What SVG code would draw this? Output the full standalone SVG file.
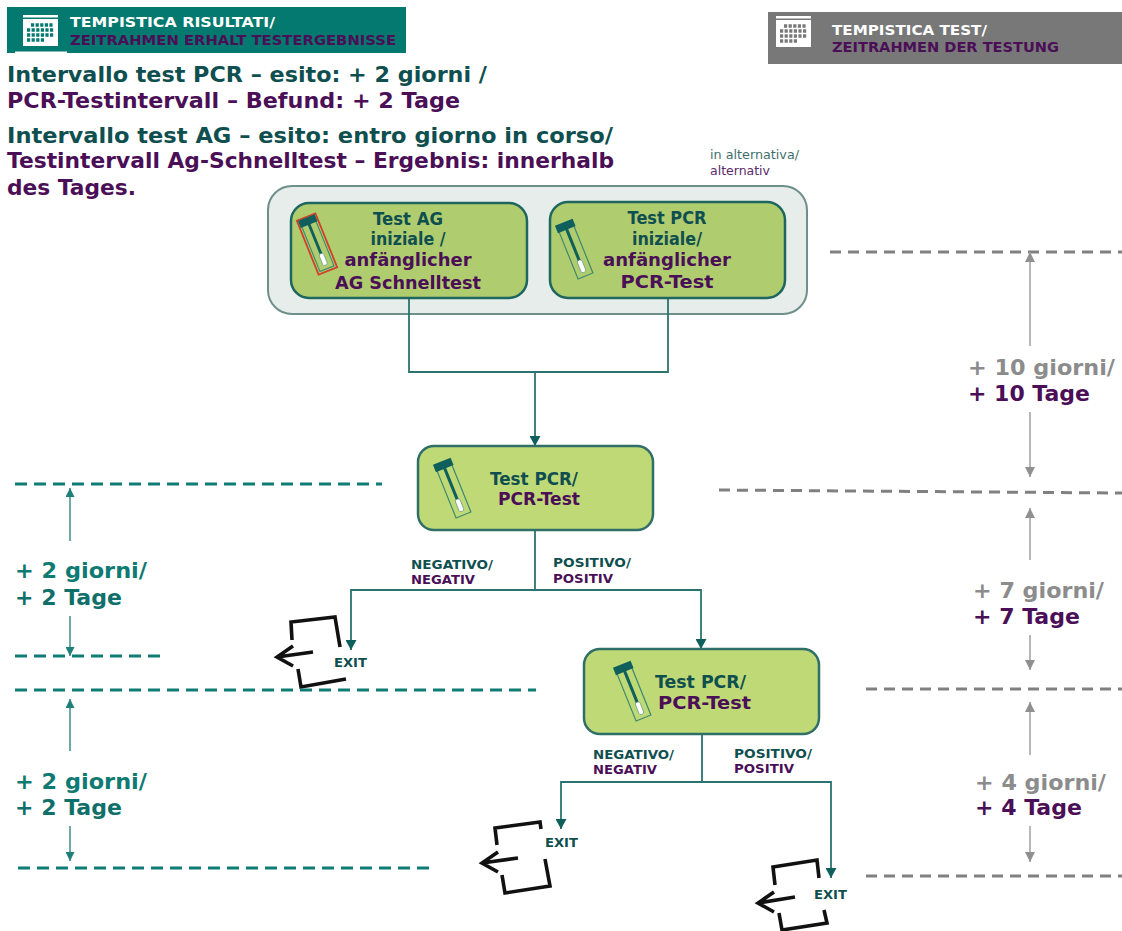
<svg xmlns="http://www.w3.org/2000/svg" width="1122" height="931" viewBox="0 0 1122 931">
<style>
text{font-family:"DejaVu Sans","Liberation Sans",sans-serif;font-weight:700}
.g{fill:#0f4f4f}.p{fill:#4b0f57}.t{fill:#0f7a72}.y{fill:#8c8c8c}
.m{font-size:21px}.b{font-size:17px}.l{font-size:18px}.s{font-size:12px}.h{font-size:14px}
.box{fill:#bfd976;stroke:#2f6f68;stroke-width:2.5}
.box2{fill:#afcc6e;stroke:#1f665f;stroke-width:2.5}
.c{fill:none;stroke:#2a7470;stroke-width:1.8}
.dt{fill:none;stroke:#0f7d75;stroke-width:3.2;stroke-dasharray:12 7}
.dy{fill:none;stroke:#808080;stroke-width:3;stroke-dasharray:11 7}
.at{fill:none;stroke:#3b8f88;stroke-width:1.5}
.ay{fill:none;stroke:#a0a0a0;stroke-width:1.5}
.x{fill:none;stroke:#111;stroke-width:3.6;stroke-linejoin:miter}
.cal{fill:#fff}
</style>
<defs>
<marker id="ah" markerWidth="12" markerHeight="11" refX="10" refY="5.5" orient="auto" markerUnits="userSpaceOnUse"><path d="M0 0L10 5.5L0 11z" fill="#0f5f5c"/></marker>
<marker id="at" markerWidth="10" markerHeight="9" refX="9" refY="4.5" orient="auto" markerUnits="userSpaceOnUse"><path d="M0 0L9 4.5L0 9z" fill="#1f807a"/></marker>
<marker id="ay" markerWidth="11" markerHeight="10" refX="10" refY="5" orient="auto" markerUnits="userSpaceOnUse"><path d="M0 0L10 5L0 10z" fill="#909090"/></marker>
<g id="tube">
<rect x="-8" y="-26" width="16" height="54" fill="none" stroke="#3f8a70" stroke-width="1.2"/>
<rect x="-9.5" y="-30" width="19" height="8" fill="#0f5f5c"/>
<rect x="-1.5" y="-23" width="3" height="35" fill="#0f5f5c"/>
<rect x="-2.5" y="11" width="5" height="13" rx="2" fill="#fff" stroke="#4f8f7a" stroke-width=".6"/>
</g>
<g id="cal">
<rect x="0" y="0" width="35" height="2.5" class="cal"/>
<rect x="0" y="4" width="35" height="27" class="cal"/>
<path d="M8 10H31M4 15H31M4 20H31M4 25H22" stroke="currentColor" stroke-width="3.4" stroke-dasharray="3.2 1.4" fill="none"/>
</g>
</defs>

<g id="header-results">
<rect x="7" y="7" width="399" height="46" fill="#04796f"/>
<rect x="15" y="51.5" width="52" height="1.5" fill="#fff"/>
<use href="#cal" x="23" y="15" color="#04796f"/>
<text x="70" y="27" class="h" fill="#fff" textLength="205" lengthAdjust="spacingAndGlyphs">TEMPISTICA RISULTATI/</text>
<text x="70" y="45" class="h p" textLength="326" lengthAdjust="spacingAndGlyphs">ZEITRAHMEN ERHALT TESTERGEBNISSE</text>
</g>
<g id="header-tests">
<rect x="768" y="12" width="354" height="52" fill="#787878"/>
<use href="#cal" x="776" y="16" color="#787878"/>
<text x="832" y="35" class="h" fill="#fff" textLength="155" lengthAdjust="spacingAndGlyphs">TEMPISTICA TEST/</text>
<text x="832" y="52" class="h p" textLength="227" lengthAdjust="spacingAndGlyphs">ZEITRAHMEN DER TESTUNG</text>
</g>
<g id="intro">
<text x="7" y="82" class="m g" textLength="480" lengthAdjust="spacingAndGlyphs">Intervallo test PCR – esito: + 2 giorni /</text>
<text x="7" y="108" class="m p" textLength="453" lengthAdjust="spacingAndGlyphs">PCR-Testintervall – Befund: + 2 Tage</text>
<text x="7" y="143" class="m g" textLength="606" lengthAdjust="spacingAndGlyphs">Intervallo test AG – esito: entro giorno in corso/</text>
<text x="7" y="168" class="m p" textLength="607" lengthAdjust="spacingAndGlyphs">Testintervall Ag-Schnelltest – Ergebnis: innerhalb</text>
<text x="7" y="195" class="m p" textLength="129" lengthAdjust="spacingAndGlyphs">des Tages.</text>
</g>
<g id="alt-label">
<text x="710" y="159" fill="#3f6f6c" style="font-weight:400;font-size:11.5px" textLength="89" lengthAdjust="spacingAndGlyphs">in alternativa/</text>
<text x="710" y="175" fill="#5a2a6a" style="font-weight:400;font-size:11.5px" textLength="60" lengthAdjust="spacingAndGlyphs">alternativ</text>
</g>
<g id="alt-group"><rect x="268" y="186" width="539" height="128" rx="24" fill="#e6edea" stroke="#6f8f8c" stroke-width="2"/></g>

<g id="connectors">
<path class="c" d="M409 298V372H668V298"/>
<path class="c" d="M535 372V446" marker-end="url(#ah)"/>
<path class="c" d="M535 530V590H351V650" marker-end="url(#ah)"/>
<path class="c" d="M535 590H701V649" marker-end="url(#ah)"/>
<path class="c" d="M702 733V782H561V829" marker-end="url(#ah)"/>
<path class="c" d="M702 782H831V878" marker-end="url(#ah)"/>
</g>

<g id="node-ag">
<rect x="291" y="203" width="236" height="95" rx="18" class="box2"/>
<g transform="translate(317 244) rotate(-22)"><rect x="-10" y="-29" width="20" height="58" fill="none" stroke="#d0402a" stroke-width="1.8"/><use href="#tube" transform="scale(.95)"/></g>
<text x="408" y="225" text-anchor="middle" class="b g" textLength="70" lengthAdjust="spacingAndGlyphs">Test AG</text>
<text x="408" y="245" text-anchor="middle" class="b g" textLength="75" lengthAdjust="spacingAndGlyphs">iniziale /</text>
<text x="408" y="266" text-anchor="middle" class="l p" textLength="127" lengthAdjust="spacingAndGlyphs">anfänglicher</text>
<text x="408" y="289" text-anchor="middle" class="l p" textLength="146" lengthAdjust="spacingAndGlyphs">AG Schnelltest</text>
</g>
<g id="node-pcr-initial">
<rect x="550" y="202" width="235" height="96" rx="18" class="box2"/>
<use href="#tube" transform="translate(575 250) rotate(-22)"/>
<text x="667" y="224" text-anchor="middle" class="b g" textLength="79" lengthAdjust="spacingAndGlyphs">Test PCR</text>
<text x="667" y="245" text-anchor="middle" class="b g" textLength="70" lengthAdjust="spacingAndGlyphs">iniziale/</text>
<text x="667" y="266" text-anchor="middle" class="l p" textLength="128" lengthAdjust="spacingAndGlyphs">anfänglicher</text>
<text x="667" y="288" text-anchor="middle" class="l p" textLength="93" lengthAdjust="spacingAndGlyphs">PCR-Test</text>
</g>
<g id="node-pcr-2">
<rect x="418" y="446" width="235" height="84" rx="16" class="box"/>
<use href="#tube" transform="translate(453 489) rotate(-22)"/>
<text x="490" y="485" class="b g" textLength="88" lengthAdjust="spacingAndGlyphs">Test PCR/</text>
<text x="498" y="505" class="b p" textLength="82" lengthAdjust="spacingAndGlyphs">PCR-Test</text>
</g>
<g id="node-pcr-3">
<rect x="584" y="649" width="235" height="85" rx="16" class="box"/>
<use href="#tube" transform="translate(633 692) rotate(-22)"/>
<text x="655" y="688" class="b g" textLength="91" lengthAdjust="spacingAndGlyphs">Test PCR/</text>
<text x="658" y="709" class="b p" textLength="93" lengthAdjust="spacingAndGlyphs">PCR-Test</text>
</g>

<g id="labels">
<text x="411" y="569" class="s g" textLength="82" lengthAdjust="spacingAndGlyphs">NEGATIVO/</text>
<text x="411" y="584" class="s p" textLength="64" lengthAdjust="spacingAndGlyphs">NEGATIV</text>
<text x="553" y="567" class="s g" textLength="78" lengthAdjust="spacingAndGlyphs">POSITIVO/</text>
<text x="553" y="583" class="s p" textLength="60" lengthAdjust="spacingAndGlyphs">POSITIV</text>
<text x="593" y="759" class="s g" textLength="81" lengthAdjust="spacingAndGlyphs">NEGATIVO/</text>
<text x="593" y="774" class="s p" textLength="64" lengthAdjust="spacingAndGlyphs">NEGATIV</text>
<text x="734" y="758" class="s g" textLength="78" lengthAdjust="spacingAndGlyphs">POSITIVO/</text>
<text x="734" y="773" class="s p" textLength="60" lengthAdjust="spacingAndGlyphs">POSITIV</text>
</g>

<g id="exit-1">
<path class="x" d="M292 640L291 622L335 617L340 647M277 657L313 652M293 646L277 657L293 666M298 669L301 687L346 679"/>
<text x="334" y="667" class="s g" textLength="33" lengthAdjust="spacingAndGlyphs">EXIT</text>
</g>
<g id="exit-2">
<path class="x" d="M497 845L495 828L540 822L541 829M482 863L518 858M498 852L482 863L498 872M502 875L505 893L550 886L545 859"/>
<text x="545" y="847" class="s g" textLength="33" lengthAdjust="spacingAndGlyphs">EXIT</text>
</g>
<g id="exit-3">
<path class="x" d="M775 885L773 867L817 860L819 878M758 903L795 897M774 892L758 903L774 912M779 913L782 930L827 923L824 910"/>
<text x="814" y="899" class="s g" textLength="33" lengthAdjust="spacingAndGlyphs">EXIT</text>
</g>

<g id="timeline-left">
<path class="dt" d="M15 484H382M15 656H160M15 690H536M18 868H430"/>
<path class="at" d="M70 541V488" marker-end="url(#at)"/>
<path class="at" d="M70 616V656" marker-end="url(#at)"/>
<path class="at" d="M70 751V699" marker-end="url(#at)"/>
<path class="at" d="M70 826V861" marker-end="url(#at)"/>
<text x="15" y="578" class="m t" textLength="132" lengthAdjust="spacingAndGlyphs">+ 2 giorni/</text>
<text x="15" y="605" class="m" fill="#0f6f6a" textLength="107" lengthAdjust="spacingAndGlyphs">+ 2 Tage</text>
<text x="15" y="789" class="m t" textLength="132" lengthAdjust="spacingAndGlyphs">+ 2 giorni/</text>
<text x="15" y="815" class="m" fill="#0f6f6a" textLength="107" lengthAdjust="spacingAndGlyphs">+ 2 Tage</text>
</g>
<g id="timeline-right">
<path class="dy" d="M830 252H1122M719 490L1122 493M866 689H1122M866 876H1122"/>
<path class="ay" d="M1030 346V252" marker-end="url(#ay)"/>
<path class="ay" d="M1030 412V477" marker-end="url(#ay)"/>
<path class="ay" d="M1030 560V508" marker-end="url(#ay)"/>
<path class="ay" d="M1030 635V670" marker-end="url(#ay)"/>
<path class="ay" d="M1030 755V702" marker-end="url(#ay)"/>
<path class="ay" d="M1030 826V862" marker-end="url(#ay)"/>
<text x="968" y="375" class="m y" textLength="147" lengthAdjust="spacingAndGlyphs">+ 10 giorni/</text>
<text x="968" y="401" class="m p" textLength="122" lengthAdjust="spacingAndGlyphs">+ 10 Tage</text>
<text x="973" y="598" class="m y" textLength="131" lengthAdjust="spacingAndGlyphs">+ 7 giorni/</text>
<text x="973" y="624" class="m p" textLength="107" lengthAdjust="spacingAndGlyphs">+ 7 Tage</text>
<text x="975" y="790" class="m y" textLength="131" lengthAdjust="spacingAndGlyphs">+ 4 giorni/</text>
<text x="975" y="815" class="m p" textLength="107" lengthAdjust="spacingAndGlyphs">+ 4 Tage</text>
</g>
</svg>
